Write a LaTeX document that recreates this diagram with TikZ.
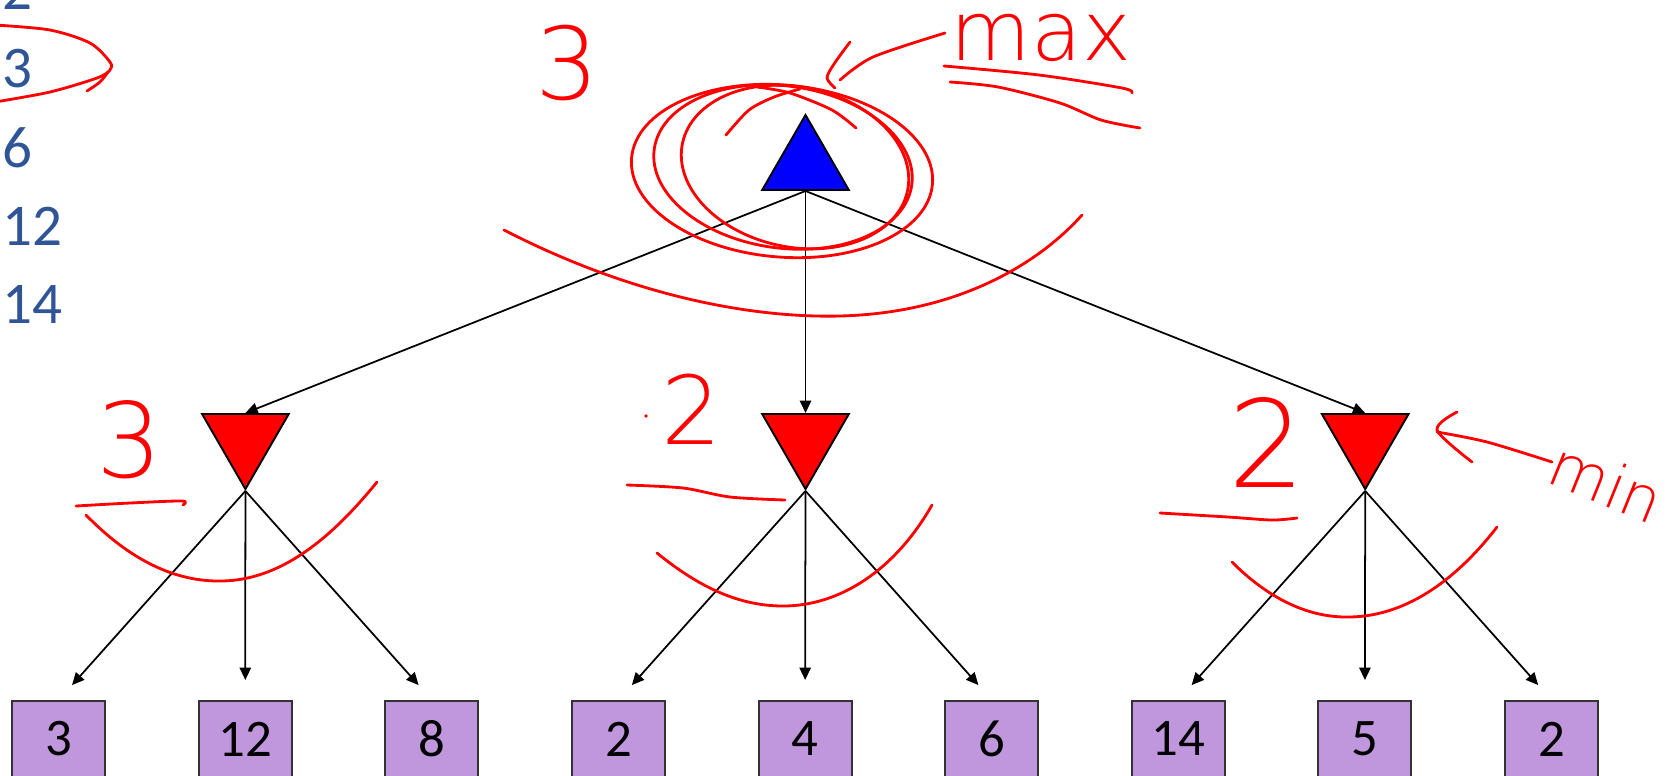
\documentclass[tikz,border=0pt]{standalone}
\usepackage{fontspec}
\setmainfont{Carlito}
\newfontfamily\penfont{DejaVu Sans}[UprightFont={* ExtraLight}]
\usepackage{tikz}
\usetikzlibrary{arrows.meta,shapes.geometric}

\definecolor{listblue}{RGB}{47,85,151}
\definecolor{leafpurple}{RGB}{192,151,221}

\begin{document}
\begin{tikzpicture}[x=0.01cm, y=-0.01cm,
        maxnode/.style={regular polygon, regular polygon sides=3, minimum size=1cm, inner sep=0pt, fill=blue, draw=black, line width=0.55pt},
        minnode/.style={maxnode, fill=red, shape border rotate=180},
        leaf/.style={rectangle, fill=leafpurple, draw=black!80, line width=0.55pt, minimum width=0.93cm, minimum height=0.76cm, inner sep=0pt, font=\fontsize{15}{16}\selectfont},
        listnum/.style={anchor=west, inner sep=0pt, text=listblue, font=\fontsize{16.8}{18}\selectfont},
        branch/.style={-{Triangle[length=3.5pt, width=3.2pt]}, line width=0.5pt},
        pen/.style={red, line width=0.8pt, line cap=round, line join=round},
        pentext/.style={red, inner sep=0pt, font=\penfont\fontsize{#1}{#1}\selectfont}]
            \useasboundingbox (0,0) rectangle (1673,775);

            % Sorted list
            \foreach \v [count=\k from 0] in {2,3,6,12,14} {
                \pgfmathsetmacro{\ylist}{-10+78.7*\k}
                \node[listnum] (list\k) at (2,\ylist) {\v};
            }

            % Tree nodes
            \node[maxnode] (root) at (805.5,165) {};
            \foreach \k/\x in {1/245.4, 2/805.5, 3/1365.2} {
                \node[minnode] (min\k) at (\x,439) {};
            }
            \foreach \v [count=\k from 0] in {3,12,8,2,4,6,14,5,2} {
                \pgfmathsetmacro{\xleaf}{58.7+186.6*\k}
                \node[leaf] (leaf\k) at (\xleaf,739) {\v};
            }

            % Edges
            \foreach \k in {1,2,3} {
                \draw[branch] (root.side 2) -- (min\k.side 2);
                \foreach \j in {0,1,2} {
                    \pgfmathtruncatemacro{\n}{3*(\k-1)+\j}
                    \draw[branch, shorten >=0.2cm] (min\k.corner 1) -- (leaf\n.north);
                }
            }

            % Pen notes: list
            \draw[pen] plot[smooth] coordinates {(-5,25) (50,30) (90,43) (110,62) (110,70) (97,78) (50,92) (-5,102)};
            \draw[pen] plot[smooth] coordinates {(108,72) (100,82) (87,91)};

            % Pen notes: max node
            \node[pentext=28.5] (rootval) at (567,63) {3};
            \node[pentext=23.5] (maxlabel) at (1041,38) {max};
            \draw[pen] plot[smooth] coordinates {(850,42) (834,64) (827,78) (835,88)};
            \draw[pen] plot[smooth] coordinates {(945,33) (873,57) (840,80)};
            \draw[pen] plot[smooth] coordinates {(944,66) (1039,75) (1122,88) (1132,93)};
            \draw[pen] plot[smooth] coordinates {(950,82) (998,87) (1060,103) (1101,120) (1140,128)};
            \draw[pen, rotate around={-5:(782,171)}] (782,171) ellipse [x radius=151, y radius=86];
            \draw[pen, rotate around={-8:(783,167)}] (783,167) ellipse [x radius=130, y radius=81];
            \draw[pen, rotate around={-12:(795,167)}] (795,167) ellipse [x radius=115, y radius=80];
            \draw[pen] plot[smooth] coordinates {(726,135) (749,110) (774,97) (800,89)};
            \draw[pen] plot[smooth] coordinates {(856,128) (832,110) (790,93) (757,87)};
            \draw[pen] (504,230) .. controls (640,300) and (760,318) .. (840,316) .. controls (960,313) and (1040,262) .. (1082,215);

            % Pen notes: min nodes
            \node[pentext=29.5] (minval1) at (130,440) {3};
            \draw[pen] plot[smooth] coordinates {(76,506) (130,503) (182,501) (183,505)};
            \draw[pen] (86,515) .. controls (130,560) and (175,582) .. (222,581) .. controls (280,580) and (330,540) .. (377,482);

            \node[pentext=27] (minval2) at (692,409) {2};
            \fill[red] (646,416) circle [radius=1.8];
            \draw[pen] plot[smooth] coordinates {(627,485) (683,488) (730,497) (785,500)};
            \draw[pen] (657,553) .. controls (700,588) and (740,606) .. (783,606) .. controls (840,606) and (895,570) .. (932,505);

            \node[pentext=34.5] (minval3) at (1267,442) {2};
            \draw[pen] plot[smooth] coordinates {(1160,513) (1228,517) (1272,520) (1297,518)};
            \draw[pen] (1232,562) .. controls (1270,600) and (1310,618) .. (1350,617) .. controls (1410,616) and (1460,575) .. (1497,527);
            \draw[pen] plot[smooth] coordinates {(1457,412) (1437,430) (1472,462)};
            \draw[pen] plot[smooth] coordinates {(1437,432) (1487,442) (1552,462)};
            \node[pentext=17.5, rotate=-22] (minlabel) at (1607,482) {min};
        \end{tikzpicture}
\end{document}
